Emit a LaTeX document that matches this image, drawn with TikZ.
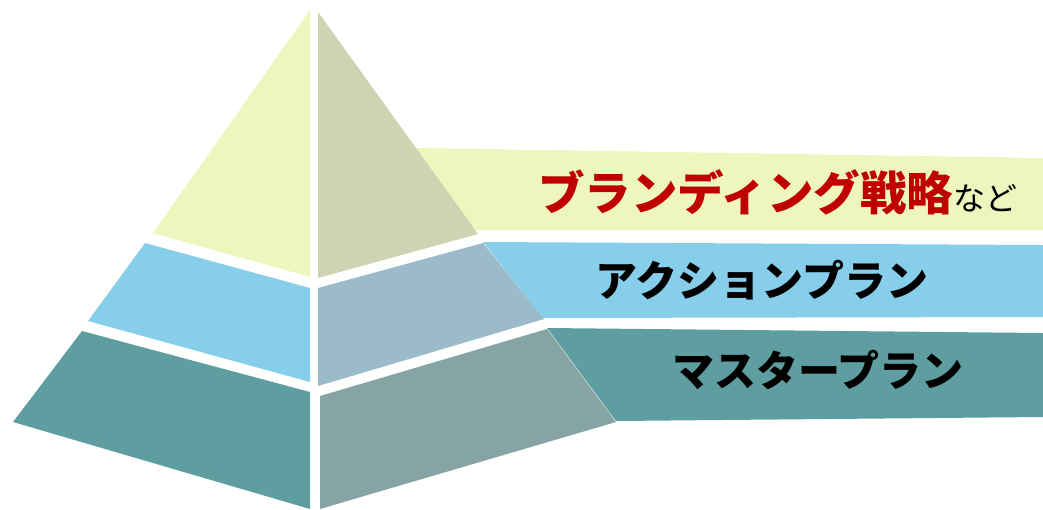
\documentclass[tikz,border=0pt]{standalone}
\usepackage{fontspec}
\newfontfamily\jp{Noto Sans CJK JP}
\definecolor{paleY}{RGB}{238,246,190}
\definecolor{greyY}{RGB}{208,211,178}
\definecolor{skyB}{RGB}{135,206,234}
\definecolor{greyB}{RGB}{155,187,203}
\definecolor{tealC}{RGB}{95,158,160}
\definecolor{greyT}{RGB}{134,164,164}
\definecolor{darkred}{RGB}{192,0,0}
\tikzset{
  lbl/.style={inner sep=0pt, font=\jp\bfseries\fontsize{42}{42}\selectfont, text=black}
}
\begin{document}
\begin{tikzpicture}[x=1pt,y=-1pt]
\useasboundingbox (0,0) rectangle (1043,509);
% ribbons (behind pyramid)
\fill[paleY] (416,148) -- (1043,158) -- (1043,230) -- (474,230) -- cycle;
\fill[skyB] (483,242) -- (1043,245) -- (1043,317) -- (543,318) -- cycle;
\fill[tealC] (547,328) -- (1043,333) -- (1043,417) -- (616,421) -- cycle;
% pyramid faces
\fill[paleY] (310,10) -- (310,277) -- (153,233) -- cycle;
\fill[greyY] (318,12) -- (318,278) -- (478,234) -- cycle;
\fill[skyB] (145,243) -- (310,288) -- (310,382) -- (88,321) -- cycle;
\fill[greyB] (318,288) -- (483,243) -- (544,319) -- (318,386) -- cycle;
\fill[tealC] (82,331) -- (310,392) -- (310,509) -- (13,422) -- cycle;
\fill[greyT] (320,396) -- (547,329) -- (616,422) -- (320,509) -- cycle;
% labels
\node[inner sep=0pt, anchor=base west] (brand) at (538,210)
  {\jp\fontsize{46.5}{46.5}\selectfont\bfseries\color{darkred}ブランディング戦略{\mdseries\fontsize{32}{32}\selectfont\color{black}など}};
\node[lbl] (action) at (762,280) {アクションプラン};
\node[lbl] (master) at (818,370) {マスタープラン};
\end{tikzpicture}
\end{document}
